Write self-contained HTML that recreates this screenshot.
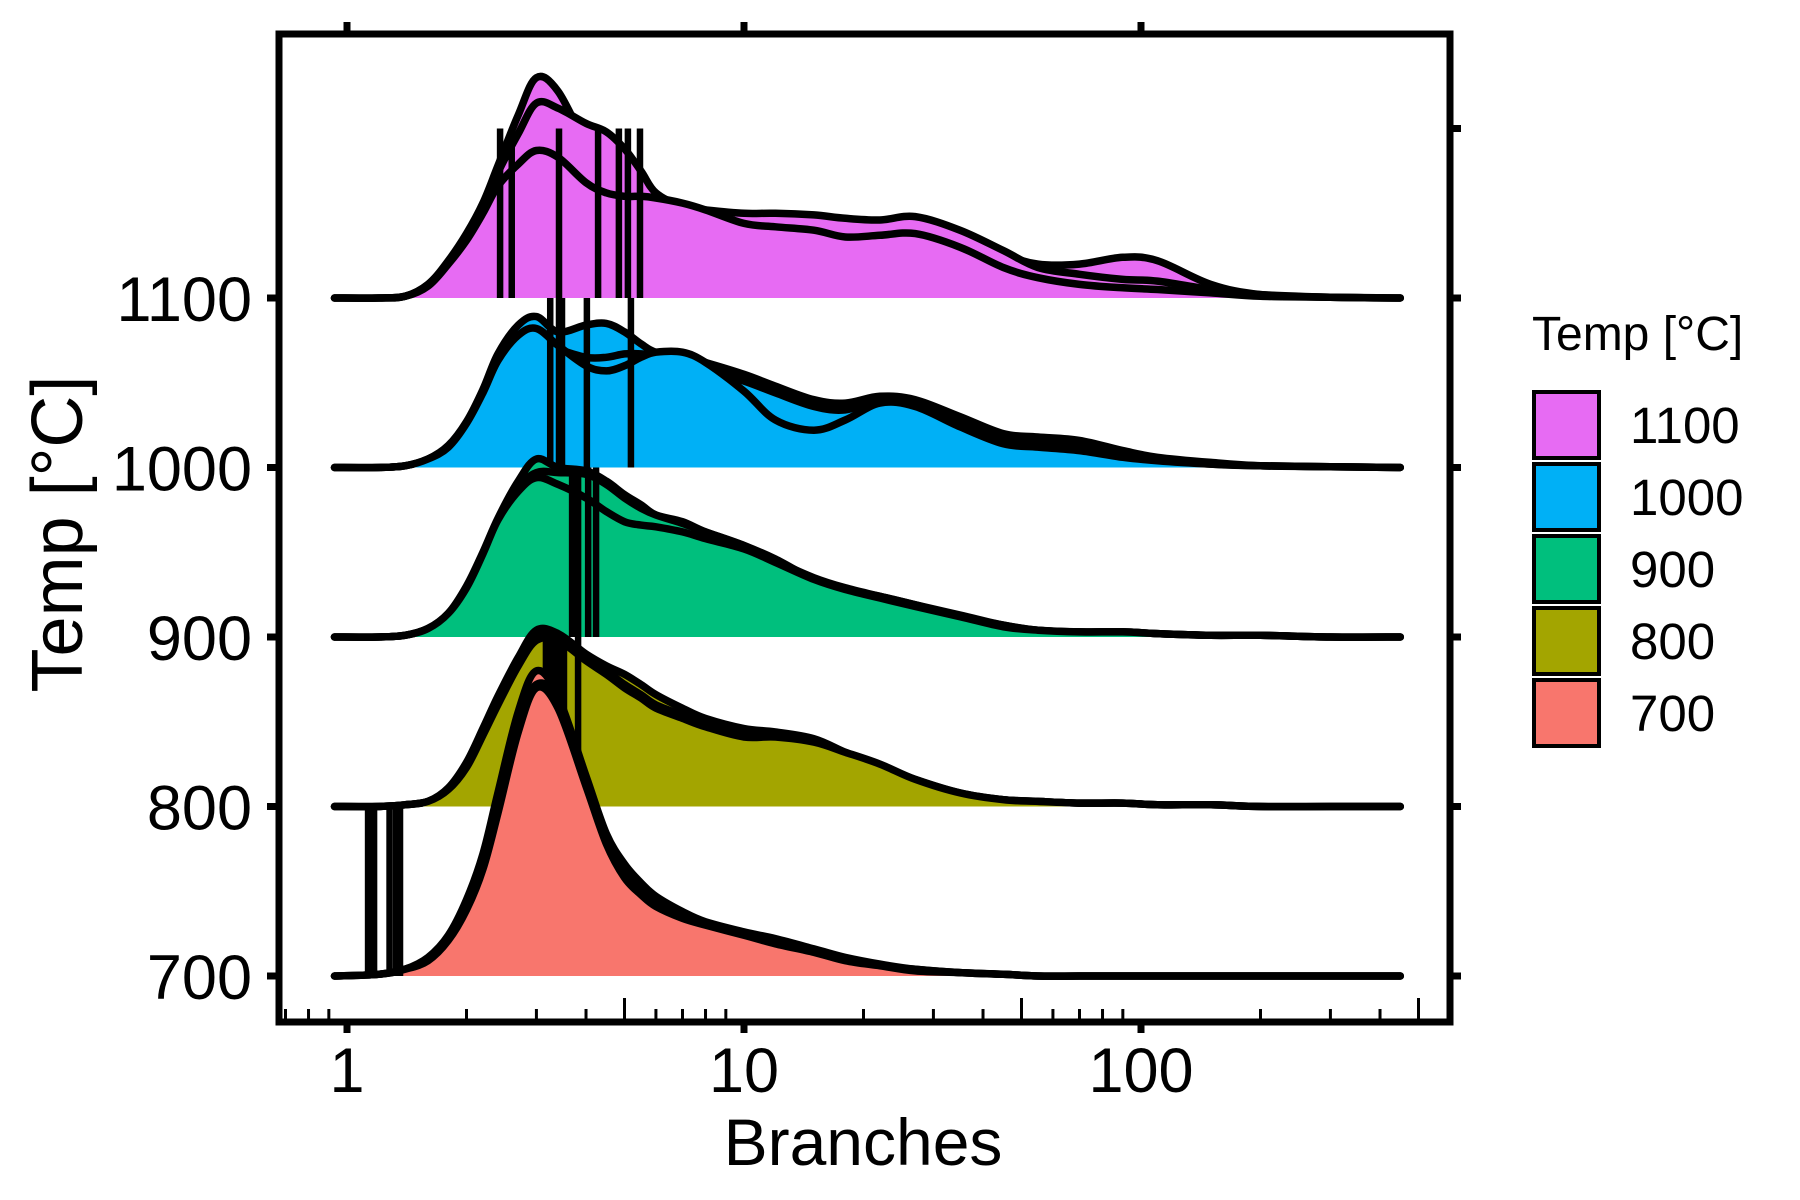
<!DOCTYPE html>
<html><head><meta charset="utf-8">
<style>
html,body{margin:0;padding:0;background:#fff;}
svg{display:block;font-family:"Liberation Sans",Arial,sans-serif;}
</style></head>
<body>
<svg id="chart" width="1800" height="1200" viewBox="0 0 1800 1200" xmlns="http://www.w3.org/2000/svg">
  <g id="ridges"></g>
  <g id="axes"></g>
  <text x="863" y="1165" font-size="66" text-anchor="middle">Branches</text>
  <text transform="translate(82,534) rotate(-90)" font-size="72" text-anchor="middle">Temp [°C]</text>
  <g id="legend">
    <text x="1532" y="350" font-size="48">Temp [°C]</text>
  </g>
</svg>
<script>
// ---- data ----
const xs = [0.93,1.2,1.4,1.6,1.8,2.0,2.2,2.4,2.7,3.0,3.4,4.0,4.5,5.0,5.5,6.0,7,8,10,12,15,18,22,27,35,45,55,70,90,110,150,200,300,450];
const temps = [1100,1000,900,800,700];
const colors = ["#E76BF3","#00B0F6","#00BF7D","#A3A500","#F8766D"];
const d1100a = [0,0,1,8,22,38,56,78,108,130,122,91,75,62,50,40,34,36,42,47,45,37,40,46,38,26,20,20,24,22,8,2,0.5,0];
const d1100b = [0,0,1,8,21,36,54,74,97,115,112,103,98,88,75,62,54,52,50,50,49,47,46,48,40,28,18,14,11,10,5,2,0.5,0];
const d1100c = [0,0,1,7,20,34,50,66,79,87,83,68,62,60,60,59,56,52,44,42,40,36,37,38,30,18,12,8,6,5,3,1,0.5,0];
const d1000a = [0,0,1,5,13,27,46,67,84,89,80,84,85,80,73,68,66,62,55,48,40,38,42,40,30,20,18,16,10,6,3,1,0.5,0];
const d1000b = [0,0,1,5,12,25,43,61,74,76,70,65,65,67,67,66,63,58,51,44,36,34,40,38,26,18,16,14,8,5,2,1,0.5,0];
const d1000c = [0,0,1,5,12,26,44,63,78,82,72,60,57,60,65,68,68,62,45,28,22,28,38,36,24,14,12,10,6,4,2,1,0.5,0];
const d900a = [0,0,1,5,14,30,50,70,92,105,100,98,92,84,78,72,68,62,54,46,34,28,24,19,13,7,4,3,3,2,1,1,0,0];
const d900b = [0,0,1,5,13,28,48,68,88,97,97,96,90,82,76,72,67,62,54,45,35,29,24,19,12,7,4,3,3,2,1,1,0,0];
const d900c = [0,0,1,5,14,29,49,69,86,94,90,82,74,68,66,65,62,58,52,44,34,28,23,18,12,6,4,3,3,2,1,1,0,0];
const d800a = [0,0,1,3,11,26,46,65,88,104,102,90,83,78,72,66,58,52,46,44,40,32,24,16,8,4,3,2,2,1,1,0,0,0];
const d800b = [0,0,1,3,10,24,43,62,85,100,100,88,80,72,66,60,54,49,43,42,37,30,22,14,7,4,3,2,2,1,1,0,0,0];
const d800c = [0,0,1,3,10,23,42,60,83,98,98,86,78,70,64,58,52,47,41,41,38,32,25,16,8,4,3,2,2,1,1,0,0,0];
const d700a = [0,1,4,11,24,45,72,108,156,180,165,118,84,66,55,47,38,32,26,22,16,11,7,4,2,1,0,0,0,0,0,0,0,0];
const d700b = [0,1,4,10,22,41,66,100,148,172,162,115,80,60,50,42,36,31,25,20,14,10,6,4,2,1,0,0,0,0,0,0,0,0];
const d700c = [0,1,4,9,21,39,63,96,144,170,158,112,78,58,48,41,34,30,24,19,14,9,6,3,2,1,0,0,0,0,0,0,0,0];
const q1100 = [2.43,2.60,3.42,4.29,4.84,5.10,5.47];
const q1000 = [3.25,3.42,3.48,4.02,5.19];
const q900 = [3.69,3.82,4.05,4.24];
const q800 = [3.17,3.28,3.40,3.52,3.82];
const q700 = [1.13,1.17,1.28,1.33,1.36];
const xTickVals = [1,10,100];
const xTickLabels = ["1","10","100"];
const yTickVals = [700,800,900,1000,1100];
const yTickLabels = ["700","800","900","1000","1100"];

// ---- scales ----
const X0 = 347, DEC = 397;
function xs_(v){ return X0 + DEC*Math.log10(v); }
const Y700 = 976, PPU = 1.695;
function ys_(t){ return Y700 - (t-700)*PPU; }

const NS = "http://www.w3.org/2000/svg";
function mk(tag, attrs, parent){
  const e = document.createElementNS(NS, tag);
  for (const k in attrs) e.setAttribute(k, attrs[k]);
  parent.appendChild(e); return e;
}
function spline(pts){
  let d = "M" + pts[0][0].toFixed(1) + "," + pts[0][1].toFixed(1);
  for (let i=0;i<pts.length-1;i++){
    const p0=pts[Math.max(0,i-1)], p1=pts[i], p2=pts[i+1], p3=pts[Math.min(pts.length-1,i+2)];
    const t=0.17;
    const c1x=p1[0]+(p2[0]-p0[0])*t, c1y=p1[1]+(p2[1]-p0[1])*t;
    const c2x=p2[0]-(p3[0]-p1[0])*t, c2y=p2[1]-(p3[1]-p1[1])*t;
    d += " C"+c1x.toFixed(1)+","+c1y.toFixed(1)+" "+c2x.toFixed(1)+","+c2y.toFixed(1)+" "+p2[0].toFixed(1)+","+p2[1].toFixed(1);
  }
  return d;
}

const ridges = document.getElementById("ridges");
const series = [[d1100a,d1100b,d1100c],[d1000a,d1000b,d1000c],[d900a,d900b,d900c],[d800a,d800b,d800c],[d700a,d700b,d700c]];
const quants = [q1100,q1000,q900,q800,q700];
temps.forEach((T,si)=>{
  const g = mk("g",{},ridges);
  
  
  const base = ys_(T);
  series[si].forEach((arr,ri)=>{
    const pts = xs.map((v,i)=>[xs_(v), base - arr[i]*PPU]);
    const line = spline(pts);
    const fill = mk("path",{d: line+" L"+pts[pts.length-1][0].toFixed(1)+","+base+" L"+pts[0][0].toFixed(1)+","+base+" Z", fill: colors[si], stroke:"none"}, g);
    
    
    const st = mk("path",{d: line, fill:"none", stroke:"#000", "stroke-width":7.5, "stroke-linejoin":"round", "stroke-linecap":"round"}, g);
    
    
  });
  quants[si].forEach(q=>{
    const l = mk("line",{x1:xs_(q),x2:xs_(q),y1:base,y2:ys_(T+100),stroke:"#000","stroke-width":6.5},g);
    
    
  });
});

// ---- axes ----
const axes = document.getElementById("axes");
const L=279, R=1450, TOP=34, BOT=1022;
const frame = mk("rect",{x:L,y:TOP,width:R-L,height:BOT-TOP,fill:"none",stroke:"#000","stroke-width":7},axes);


xTickVals.forEach((v,i)=>{
  const x = xs_(v);
  const t1 = mk("line",{x1:x,x2:x,y1:BOT,y2:1033,stroke:"#000","stroke-width":7},axes);
  
  
  const t2 = mk("line",{x1:x,x2:x,y1:TOP,y2:22,stroke:"#000","stroke-width":7},axes);
  
  
  const tx = mk("text",{x:x,y:1092,"font-size":63,"text-anchor":"middle"},axes);
  tx.textContent = xTickLabels[i];
  
  
});
const minors = [0.7,0.8,0.9,2,3,4,5,6,7,8,9,20,30,40,50,60,70,80,90,200,300,400,500];
minors.forEach(v=>{
  const x = xs_(v);
  const big = (v===5||v===50||v===500);
  const m = mk("line",{x1:x,x2:x,y1:BOT,y2:big?998:1009,stroke:"#000","stroke-width":3},axes);
  
  
});
yTickVals.forEach((t,i)=>{
  const y = ys_(t);
  const a = mk("line",{x1:L,x2:267,y1:y,y2:y,stroke:"#000","stroke-width":7},axes);
  
  
  const tx = mk("text",{x:252,y:y+23,"font-size":63,"text-anchor":"end"},axes);
  tx.textContent = yTickLabels[i];
  
  
});
[700,800,900,1000,1100,1200].forEach(t=>{
  const y = ys_(t);
  const b = mk("line",{x1:R,x2:1461,y1:y,y2:y,stroke:"#000","stroke-width":7},axes);
  
  
});

// ---- legend ----
const legend = document.getElementById("legend");
temps.forEach((T,i)=>{
  const y = 390 + i*72;
  const r = mk("rect",{x:1534,y:y+2,width:65,height:66,fill:colors[i],stroke:"#000","stroke-width":4},legend);
  
  
  const tx = mk("text",{x:1630,y:y+53,"font-size":51},legend);
  tx.textContent = String(T);
  
  
});
</script>
</body></html>
